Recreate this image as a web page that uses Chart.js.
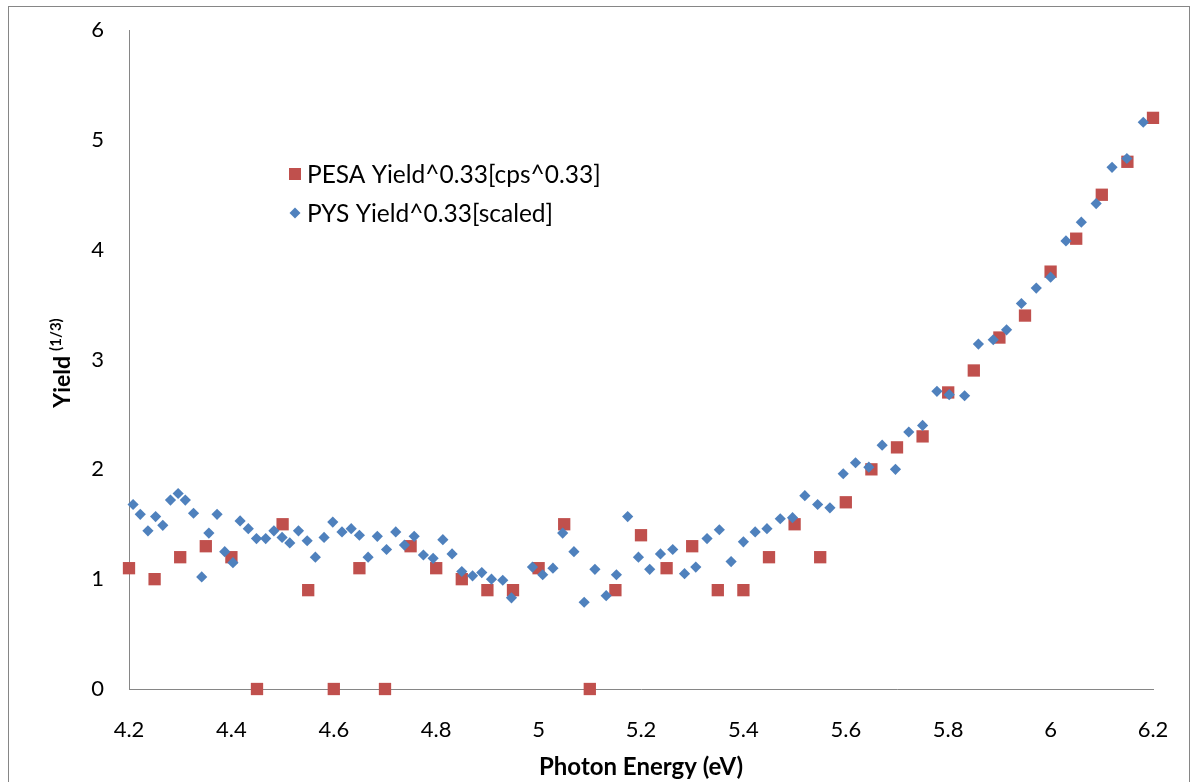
<!DOCTYPE html>
<html>
<head>
<meta charset="utf-8">
<script src="https://cdn.jsdelivr.net/npm/chart.js@4"></script>
<style>
html,body{margin:0;padding:0;background:#fff;}
#wrap{position:relative;width:1198px;height:782px;}
</style>
</head>
<body>
<div id="wrap"><canvas id="c" width="1198" height="782"></canvas></div>
<script>
// ---- data ----
const pesaX = [4.2,4.25,4.3,4.35,4.4,4.45,4.5,4.55,4.6,4.65,4.7,4.75,4.8,4.85,4.9,4.95,5.0,5.05,5.1,5.15,5.2,5.25,5.3,5.35,5.4,5.45,5.5,5.55,5.6,5.65,5.7,5.75,5.8,5.85,5.9,5.95,6.0,6.05,6.1,6.15,6.2];
const pesaY = [1.1,1.0,1.2,1.3,1.2,0,1.5,0.9,0,1.1,0,1.3,1.1,1.0,0.9,0.9,1.1,1.5,0,0.9,1.4,1.1,1.3,0.9,0.9,1.2,1.5,1.2,1.7,2.0,2.2,2.3,2.7,2.9,3.2,3.4,3.8,4.1,4.5,4.8,5.2];

const pysX = [4.208,4.222,4.237,4.252,4.266,4.281,4.296,4.310,4.326,4.342,4.356,4.372,4.387,4.403,4.417,4.433,4.449,4.467,4.483,4.499,4.514,4.531,4.548,4.564,4.581,4.598,4.616,4.634,4.650,4.667,4.685,4.703,4.721,4.738,4.757,4.775,4.794,4.813,4.831,4.850,4.871,4.889,4.908,4.930,4.947,4.988,5.008,5.028,5.047,5.069,5.089,5.110,5.132,5.152,5.174,5.195,5.217,5.238,5.262,5.285,5.307,5.329,5.353,5.376,5.400,5.423,5.446,5.472,5.496,5.520,5.545,5.569,5.595,5.619,5.645,5.671,5.697,5.723,5.750,5.778,5.802,5.832,5.859,5.888,5.914,5.943,5.972,6.000,6.030,6.060,6.089,6.120,6.149,6.181];
const pysY = [1.68,1.59,1.44,1.57,1.49,1.72,1.78,1.72,1.60,1.02,1.42,1.59,1.25,1.15,1.53,1.46,1.37,1.37,1.44,1.38,1.33,1.44,1.35,1.20,1.38,1.52,1.43,1.46,1.40,1.20,1.39,1.27,1.43,1.31,1.39,1.22,1.19,1.36,1.23,1.07,1.03,1.06,1.00,0.99,0.83,1.11,1.04,1.10,1.42,1.25,0.79,1.09,0.85,1.04,1.57,1.20,1.09,1.23,1.27,1.05,1.11,1.37,1.45,1.16,1.34,1.43,1.46,1.55,1.56,1.76,1.68,1.65,1.96,2.06,2.02,2.22,2.00,2.34,2.40,2.71,2.68,2.67,3.14,3.18,3.27,3.51,3.65,3.75,4.08,4.25,4.42,4.75,4.83,5.16];

const xTickLabels = ['4.2','4.4','4.6','4.8','5','5.2','5.4','5.6','5.8','6','6.2'];
const yTickLabels = ['0','1','2','3','4','5','6'];

const seriesNames = ['PESA Yield^0.33[cps^0.33]','PYS Yield^0.33[scaled]'];
const xTitle = 'Photon Energy (eV)';
const yTitleMain = 'Yield';
const yTitleSup = '(1/3)';

// ---- style ----
const RED = '#C0504D';
const BLUE = '#4F81BD';
const AXIS = '#868686';
const FONT = 'Lato, "Open Sans", sans-serif';

const toPts = (xs, ys) => xs.map((x, i) => ({x: x, y: ys[i]}));

const extras = {
  id: 'extras',
  beforeDraw(chart) {
    const ctx = chart.ctx;
    ctx.save();
    ctx.fillStyle = '#fff';
    ctx.fillRect(0, 0, chart.width, chart.height);
    ctx.strokeStyle = AXIS;
    ctx.lineWidth = 1;
    ctx.strokeRect(8.5, 6.5, 1181, 790);
    ctx.restore();
  },
  afterDraw(chart) {
    const ctx = chart.ctx;
    // y title with superscript
    ctx.save();
    ctx.fillStyle = '#000';
    ctx.translate(63, 363);
    ctx.rotate(-Math.PI / 2);
    ctx.textBaseline = 'middle';
    ctx.textAlign = 'left';
    ctx.font = 'bold 23px ' + FONT;
    const w1 = ctx.measureText(yTitleMain).width;
    ctx.font = 'bold 15px ' + FONT;
    const w2 = ctx.measureText(yTitleSup).width;
    const gap = 5;
    const start = -(w1 + gap + w2) / 2;
    ctx.font = 'bold 23px ' + FONT;
    ctx.fillText(yTitleMain, start, 0);
    ctx.font = 'bold 15px ' + FONT;
    ctx.fillText(yTitleSup, start + w1 + gap, -7);
    ctx.restore();

    // legend inside plot
    ctx.save();
    ctx.font = '24.5px ' + FONT;
    ctx.fillStyle = '#000';
    ctx.textBaseline = 'middle';
    ctx.textAlign = 'left';
    const lx = 295, ly = [174, 213];
    chart.data.datasets.forEach((ds) => {
      const idx = ds.legendIndex;
      const y = ly[idx];
      ctx.fillStyle = ds.backgroundColor;
      if (ds.pointStyle === 'rect') {
        ctx.fillRect(lx - 6, y - 6, 12, 12);
      } else {
        ctx.beginPath();
        ctx.moveTo(lx - 5.5, y); ctx.lineTo(lx, y - 5.5); ctx.lineTo(lx + 5.5, y); ctx.lineTo(lx, y + 5.5);
        ctx.closePath(); ctx.fill();
      }
      ctx.fillStyle = '#000';
      ctx.fillText(ds.label, lx + 12, y + 1);
    });
    ctx.restore();
  }
};

new Chart(document.getElementById('c'), {
  type: 'scatter',
  data: {
    datasets: [
      {
        label: seriesNames[0], legendIndex: 0, order: 2, clip: false,
        data: toPts(pesaX, pesaY),
        pointStyle: 'rect', pointRadius: 8.7, pointHoverRadius: 8.7,
        backgroundColor: RED, borderColor: RED, borderWidth: 0
      },
      {
        label: seriesNames[1], legendIndex: 1, order: 1, clip: false,
        data: toPts(pysX, pysY),
        pointStyle: 'rectRot', pointRadius: 5.6, pointHoverRadius: 5.6,
        backgroundColor: BLUE, borderColor: BLUE, borderWidth: 0
      }
    ]
  },
  options: {
    responsive: false,
    animation: false,
    devicePixelRatio: 1,
    layout: {padding: {left: 0, top: 30, right: 45, bottom: 0}},
    plugins: {legend: {display: false}, tooltip: {enabled: false}},
    scales: {
      x: {
        type: 'linear', min: 4.2, max: 6.2,
        afterBuildTicks: (s) => { s.ticks = xTickLabels.map(v => ({value: parseFloat(v)})); },
        afterFit: (s) => { s.height = 93; s.paddingLeft = 0; s.paddingRight = 0; },
        grid: {display: false, drawTicks: false},
        border: {display: true, color: AXIS, width: 1},
        ticks: {
          padding: 28, color: '#000', font: {family: FONT, size: 22},
          callback: (v, i) => xTickLabels[i]
        },
        title: {display: true, text: xTitle, color: '#000', font: {family: FONT, size: 24, weight: 'bold'}, padding: {top: 0, bottom: 0}}
      },
      y: {
        type: 'linear', min: 0, max: 6,
        afterBuildTicks: (s) => { s.ticks = yTickLabels.map(v => ({value: parseFloat(v)})); },
        afterFit: (s) => { s.width = 129; s.paddingTop = 0; s.paddingBottom = 0; },
        grid: {display: false, drawTicks: false},
        border: {display: true, color: AXIS, width: 1},
        ticks: {
          padding: 25, color: '#000', font: {family: FONT, size: 22},
          callback: (v, i) => yTickLabels[i]
        }
      }
    }
  },
  plugins: [extras]
});
</script>
</body>
</html>
